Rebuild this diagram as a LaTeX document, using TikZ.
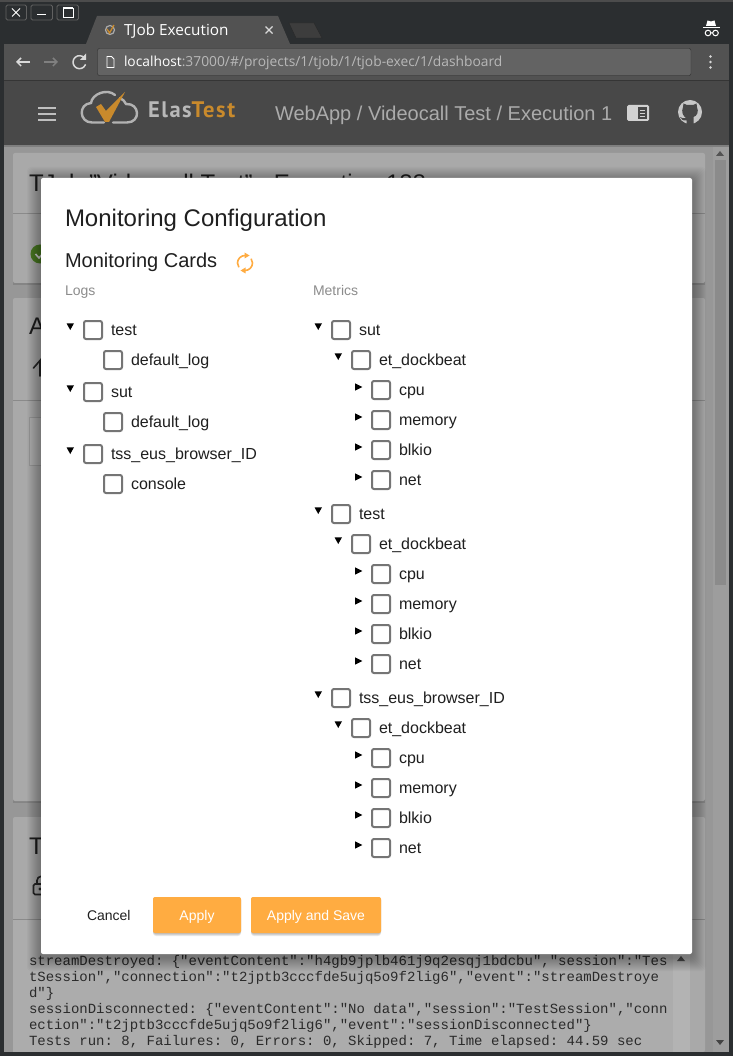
\documentclass[tikz,border=0pt]{standalone}
\usepackage{fontspec}
\usetikzlibrary{arrows.meta}
\setmainfont{Liberation Sans}
\newfontfamily\logfont{Liberation Mono}
\newfontfamily\logofont[LetterSpace=7]{PT Sans}
\newfontfamily\chromefont{Open Sans}
\definecolor{frameC}{HTML}{2B2E30}
\definecolor{tabC}{HTML}{525252}
\definecolor{headC}{HTML}{484848}
\definecolor{pageC}{HTML}{979797}
\definecolor{cardC}{HTML}{A9A9A9}
\definecolor{lineC}{HTML}{8A8A8A}
\definecolor{inkC}{HTML}{1F1F1F}
\definecolor{dimC}{HTML}{8C8C8C}
\definecolor{boxC}{HTML}{757575}
\definecolor{accentC}{HTML}{FFAC41}
\definecolor{logoC}{HTML}{C98A2C}
\definecolor{headText}{HTML}{ABABAB}
\definecolor{okC}{HTML}{4B7A23}
\tikzset{
  txt/.style={inner sep=0pt,outer sep=0pt,anchor=base west,text=#1},
  txt/.default=inkC,
  px/.style={font=\fontsize{#1}{#1}\selectfont},
  ticky/.style={draw=boxC,line width=2pt,rounded corners=2pt,fill=white,minimum size=18pt,inner sep=0pt,outer sep=0pt},
  rowlabel/.style={txt,px=16},
  card/.style={fill=cardC,rounded corners=2pt},
  winbtn/.style={draw=lineC!70!black,fill=frameC,rounded corners=1.5pt,line width=.8pt},
  actionbtn/.style={fill=accentC,rounded corners=2pt,inner sep=0pt,outer sep=0pt,text=white,px=14,align=center,text height=12pt,text depth=2pt},
  logline/.style={inner sep=0pt,outer sep=0pt,anchor=base west,text=inkC!95!white,font=\logfont\fontsize{14}{14}\selectfont\frenchspacing},
}
% row: name, box x, y, label, arrow kind (d / r / n)
\newcommand{\treerow}[5]{%
  \node[ticky] (#1) at (#2,#3+1) {};
  \node[rowlabel] (#1t) at (#2+18,#3+6.5) {#4};
  \if#5d\fill[black] (#2-26.5,#3-5.7) -- (#2-19,#3-5.7) -- (#2-22.75,#3+1) -- cycle;\fi
  \if#5r\fill[black] (#2-26,#3-5.7) -- (#2-18.7,#3-2) -- (#2-26,#3+1.7) -- cycle;\fi
}
\newcommand{\metricblock}[3]{%
  \treerow{#1a}{341}{#2}{#3}{d}
  \treerow{#1b}{361}{#2+30}{et\_dockbeat}{d}
  \treerow{#1c}{381}{#2+60}{cpu}{r}
  \treerow{#1d}{381}{#2+90}{memory}{r}
  \treerow{#1e}{381}{#2+120}{blkio}{r}
  \treerow{#1f}{381}{#2+150}{net}{r}
}
\begin{document}
\begin{tikzpicture}[x=1pt,y=-1pt]
\useasboundingbox (0,0) rectangle (733,1056);
% window
\fill[frameC] (0,0) rectangle (733,1056);
\fill[black!70] (0,0) rectangle (733,2);
% tab strip
\fill[tabC] (86,44) -- (97,16) -- (278,16) -- (290,44) -- cycle;
\fill[black!25!tabC,draw=black!50!tabC] (289,23) -- (314,23) -- (322,38) -- (296,38) -- cycle;
\draw[winbtn] (6,5) rectangle (26.5,20);
\draw[winbtn] (31,5) rectangle (52.5,20);
\draw[winbtn] (57,5) rectangle (78.5,20);
\draw[white,line width=.9pt] (12,8.5) -- (20,16.5) (20,8.5) -- (12,16.5);
\draw[white,line width=1.6pt] (37,14.5) -- (46,14.5);
\draw[white,line width=.9pt] (63,8.5) rectangle (73,17);
\draw[white,line width=2pt] (63,8.5) -- (73,8.5);
\draw[headText,line width=1.2pt] (110,30) circle (4.5);
\draw[logoC,line width=1.3pt] (107,29) -- (109.5,33) -- (114,25);
\node[txt=white,font=\chromefont\fontsize{15.3}{15.3}\selectfont] (tabtitle) at (124,35.5) {TJob Execution};
\draw[white!85!black,line width=1.1pt] (265.5,26.5) -- (272.5,33.5) (272.5,26.5) -- (265.5,33.5);
% incognito
\fill[white] (706,26) -- (707.5,20.5) -- (711,21.5) -- (714.5,20.5) -- (716,26) -- cycle;
\draw[white,line width=1.3pt] (703,27.5) -- (720,27.5);
\draw[white,line width=1pt] (708,33) circle (2.8) (715.5,33) circle (2.8) (710.8,33) -- (712.7,33);
% toolbar
\fill[tabC] (4,44) rectangle (729,80);
\fill[black!35!tabC] (4,80) rectangle (729,81);
\draw[white!85!black,line width=1.5pt,-{Straight Barb[length=4pt,width=8pt]}] (30,62) -- (16,62);
\draw[white!50!black,line width=1.5pt,-{Straight Barb[length=4pt,width=8pt]}] (44,62) -- (58,62);
\draw[white!85!black,line width=1.5pt] (84.5,58) arc (-40:-340:6.5);
\fill[white!85!black] (86,53.5) -- (86,60) -- (80,60) -- cycle;
\fill[white!10!tabC,draw=black!45!tabC,rounded corners=2pt] (97.5,48.5) rectangle (691,75.5);
\draw[white,line width=.9pt] (107,56.5) -- (111.5,56.5) -- (114,59) -- (114,67.5) -- (107,67.5) -- cycle;
\node[txt,font=\chromefont\fontsize{13.8}{13.8}\selectfont] (url) at (124,67) {\textcolor{white}{localhost}\textcolor{white!72!black}{:37000/\#/projects/1/tjob/1/tjob-exec/1/dashboard}};
\fill[white!85!black] (710.5,56.5) circle (1.3) (710.5,62) circle (1.3) (710.5,67.5) circle (1.3);
% app header
\fill[headC] (4,81) rectangle (729,145);
\fill[white!30!headC] (4,145) rectangle (729,147);
\draw[white!75!black,line width=2pt] (38,108) -- (56,108) (38,114) -- (56,114) (38,120) -- (56,120);
% logo
\draw[white!70!black,line width=2.4pt,line cap=round]
  (104,122.5) -- (92,122.5) .. controls (79,122.5) and (78,104) .. (91,103)
  .. controls (92,94) and (107,88) .. (115,95);
\draw[white!70!black,line width=2.4pt,line cap=round]
  (120,98) .. controls (123,100) and (125,101) .. (126,104)
  .. controls (140,103) and (141,122.5) .. (127,122.5) -- (113,122.5);
\fill[logoC] (96,107) -- (101,104) -- (106,111) -- (125,92) -- (109,122) -- (105,122) -- cycle;
\node[txt=white!72!black,font=\logofont\bfseries\fontsize{22.5}{23}\selectfont] (logotext) at (148,117.3) {Elas\textcolor{logoC}{Test}};
\node[txt=headText,px=20] (crumbs) at (275,121) {WebApp / Videocall Test / Execution 1};
\fill[white!82!black,rounded corners=1.5pt] (627,105) rectangle (649,121);
\fill[headC] (638,107) rectangle (647,119);
\draw[white!82!black,line width=.8pt] (640,110) -- (645,110) (640,113) -- (645,113) (640,116) -- (645,116);
% github mark
\fill[white!78!black] (690,112) circle (12);
\fill[headC] (683,107) -- (683.5,103.5) -- (687,105) -- (693,105) -- (696.5,103.5) -- (697,107) .. controls (699,112) and (697,116) .. (693.5,117) -- (693.5,124.5) -- (686.5,124.5) -- (686.5,120.5) .. controls (683,121) and (681,119) .. (680,117) .. controls (682,118) and (684,119) .. (686,118) .. controls (683,116) and (681,112) .. (683,107) -- cycle;
% page
\fill[pageC] (4,147) rectangle (729,1052);
\fill[white!6!pageC] (713,147) rectangle (729,1052);
\fill[black!8!pageC] (715,160) rectangle (726,585);
\fill[black!45!pageC] (716,156) -- (724,156) -- (720,151) -- cycle;
\fill[black!55!pageC] (716,1040) -- (724,1040) -- (720,1045) -- cycle;
% cards
\fill[black!12!pageC] (13,155) rectangle (705,285);
\fill[black!12!pageC] (13,300) rectangle (705,803);
\fill[card] (13,153) rectangle (705,283);
\fill[card] (13,298) rectangle (705,801);
\fill[card] (13,817) rectangle (705,1052);
\draw[lineC] (13,213) -- (705,213);
\draw[lineC] (13,400) -- (705,400);
\draw[lineC] (13,919) -- (705,919);
\node[txt,px=24] (cardA) at (29,192) {TJob "Videocall Test" - Execution 188};
\node[txt,px=24] (cardB) at (29,334) {A};
\node[txt,px=24] (cardC) at (29,854) {Te};
\fill[okC] (40,254) circle (9.5);
\draw[white!80!black,line width=1.6pt] (35.5,254) -- (39,258) -- (45,251);
\draw[black!85,line width=1.6pt,line cap=round] (40,376) -- (40,360.5) -- (33.5,368);
\fill[white!8!cardC,draw=black!10!cardC] (29,417) rectangle (60,465);
\draw[black!85,line width=1.6pt,rounded corners=1.5pt] (33.5,884) rectangle (47,894.5);
\draw[black!85,line width=1.6pt] (37,884) -- (37,880.5) arc (-180:-20:4.2);
\fill[black!85] (40,889) circle (1.6);
% log pane
\fill[white!4!cardC] (13,920) rectangle (673,1052);
\fill[white!12!cardC] (673,920) rectangle (690,1052);
\fill[black!55!cardC] (677,961) -- (685,961) -- (681,956) -- cycle;
\node[logline] (log1) at (29,965.5) {streamDestroyed: \{"eventContent":"h4gb9jplb461j9q2esqj1bdcbu","session":"Tes};
\node[logline] (log2) at (29,981.5) {tSession","connection":"t2jptb3cccfde5ujq5o9f2lig6","event":"streamDestroye};
\node[logline] (log3) at (29,997.5) {d"\}};
\node[logline] (log4) at (29,1013.5) {sessionDisconnected: \{"eventContent":"No data","session":"TestSession","conn};
\node[logline] (log5) at (29,1029.5) {ection":"t2jptb3cccfde5ujq5o9f2lig6","event":"sessionDisconnected"\}};
\node[logline] (log6) at (29,1045.5) {Tests run: 8, Failures: 0, Errors: 0, Skipped: 7, Time elapsed: 44.59 sec};
% bottom frame over any overflow
\fill[frameC] (0,1052) rectangle (733,1056);
% dialog shadow
\foreach \k in {1,...,14}{
  \fill[black,opacity=.022,rounded corners=4pt] (41-\k,178-\k+3) rectangle (692+\k,954+\k+3);
}
% dialog
\fill[white,rounded corners=2pt] (41,178) rectangle (692,954);
\node[txt,px=24] (title) at (65,227) {Monitoring Configuration};
\node[txt,px=20] (subtitle) at (65,267.5) {Monitoring Cards};
\draw[accentC,line width=1.6pt] (245,255.5) arc (-90:-215:7.5);
\draw[accentC,line width=1.6pt] (245,270.5) arc (-270:-395:7.5);
\fill[accentC] (244.5,252.5) -- (249.5,255.5) -- (244.5,258.5) -- cycle;
\fill[accentC] (245.5,267.5) -- (240.5,270.5) -- (245.5,273.5) -- cycle;
\node[txt=dimC,px=14] (logshead) at (65,295) {Logs};
\node[txt=dimC,px=14] (metricshead) at (313,295) {Metrics};
\treerow{la}{93}{329}{test}{d}
\treerow{lb}{113}{359}{default\_log}{n}
\treerow{lc}{93}{391}{sut}{d}
\treerow{ld}{113}{421}{default\_log}{n}
\treerow{le}{93}{453}{tss\_eus\_browser\_ID}{d}
\treerow{lf}{113}{483}{console}{n}
\metricblock{ma}{329}{sut}
\metricblock{mb}{513}{test}
\metricblock{mc}{697}{tss\_eus\_browser\_ID}
% buttons
\node[txt,px=14] (cancel) at (87,920) {Cancel};
\foreach \k in {1,2,3}{
  \fill[black,opacity=.09,rounded corners=3pt] (153,897) rectangle (241,933+\k);
  \fill[black,opacity=.09,rounded corners=3pt] (251,897) rectangle (381,933+\k);
}
\node[actionbtn,minimum width=88pt,minimum height=36pt] (apply) at (197,915) {Apply};
\node[actionbtn,minimum width=130pt,minimum height=36pt] (applysave) at (316,915) {Apply and Save};
\end{tikzpicture}
\end{document}
